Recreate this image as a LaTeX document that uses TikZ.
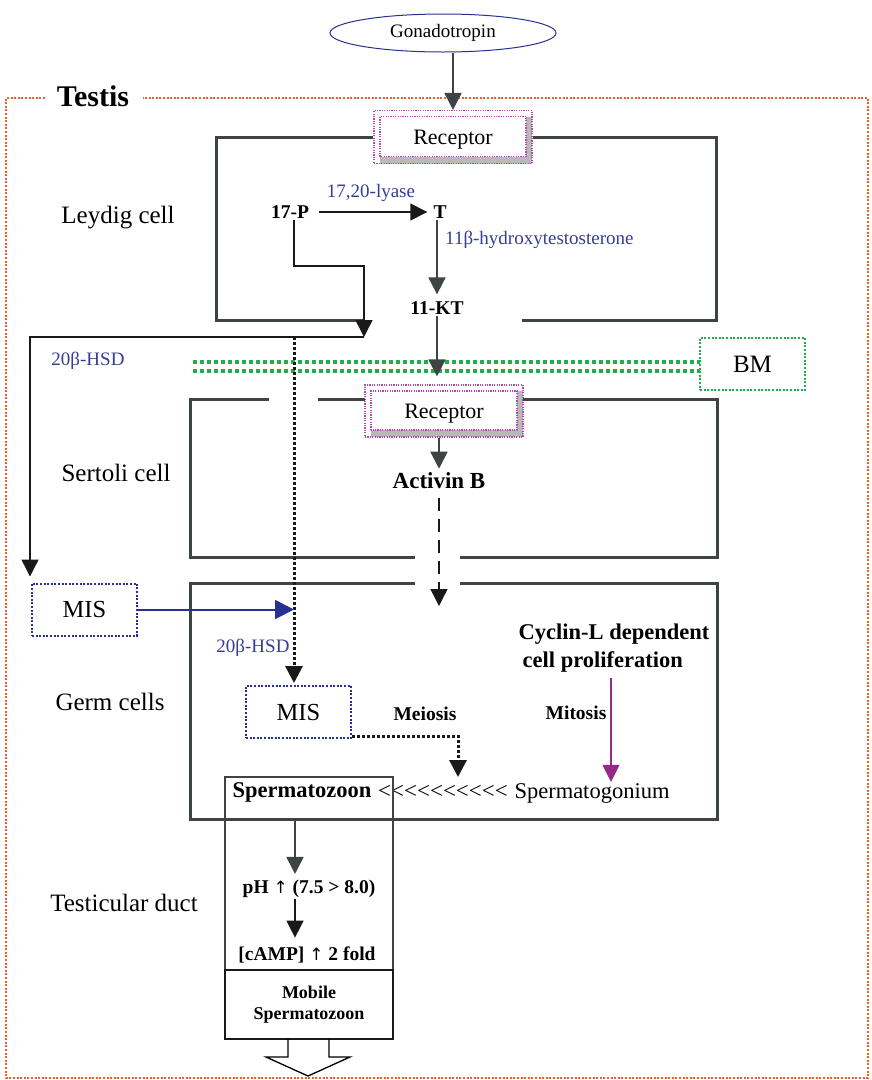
\documentclass[tikz,border=0pt]{standalone}
\usepackage{fontspec}
\setmainfont{Liberation Serif}
\newfontfamily\arrowfont{DejaVu Sans}
\usetikzlibrary{positioning, arrows.meta, shapes.geometric}
\definecolor{wallc}{RGB}{62,68,68}
\definecolor{enzc}{RGB}{55,60,150}
\definecolor{misc}{RGB}{40,48,145}
\definecolor{testc}{RGB}{240,95,40}
\definecolor{bmc}{RGB}{30,175,75}
\definecolor{recc}{RGB}{180,70,175}
\definecolor{shadc}{RGB}{185,185,185}
\definecolor{mitc}{RGB}{150,40,140}
\newcommand{\fsz}[1]{\fontsize{#1}{#1}\selectfont}
\newcommand{\uparr}{{\arrowfont\mdseries\fsz{17}↑}}
\newcommand{\ltch}{\hbox{<}}

\begin{document}
\begin{tikzpicture}[x=1pt, y=-1pt, inner sep=1pt,
  wall/.style={draw=wallc, line width=3pt},
  lab/.style={font=\fsz{25}},
  chem/.style={font=\fsz{19.5}\bfseries},
  big/.style={font=\fsz{22.5}\bfseries},
  enz/.style={text=enzc, font=\fsz{19}},
  recep/.style={draw=recc, line width=1.2pt, dash pattern=on 1.2pt off 1.2pt,
    fill=white, minimum width=158pt, minimum height=53pt, font=\fsz{22},
    text depth=0pt,
    path picture={
      \fill[shadc] ([shift={(-6pt,-6pt)}]path picture bounding box.north east)
        rectangle (path picture bounding box.south east);
      \fill[shadc] ([xshift=6pt]path picture bounding box.south west)
        rectangle ([yshift=7pt]path picture bounding box.south east);
      \draw[recc, line width=1.2pt, dash pattern=on 1.2pt off 1.2pt]
        ([shift={(6pt,7pt)}]path picture bounding box.south west)
        rectangle ([shift={(-6pt,-6pt)}]path picture bounding box.north east);}},
  misbox/.style={draw=misc, line width=2pt, dash pattern=on 2pt off 1.6pt,
    minimum width=105pt, minimum height=52pt, font=\fsz{24.5}},
  bmbox/.style={draw=bmc, line width=2pt, dash pattern=on 2pt off 1.6pt,
    minimum width=105pt, minimum height=52pt, font=\fsz{25}},
  arr/.style={-{Triangle[length=17pt,width=17pt]}, draw=wallc, line width=1.8pt},
  blk/.style={-{Triangle[length=17pt,width=17pt]}, draw=black!90, line width=1.4pt},
  dotl/.style={-{Triangle[length=17pt,width=17pt]}, draw=black!90, line width=3pt,
    dash pattern=on 3pt off 2pt},
  dsh/.style={-{Triangle[length=17pt,width=17pt]}, draw=black!90, line width=1.4pt,
    dash pattern=on 13pt off 8pt},
  bluearr/.style={-{Triangle[length=19pt,width=19pt]}, draw=misc, line width=2pt},
  mitarr/.style={-{Triangle[length=17pt,width=17pt]}, draw=mitc, line width=1.2pt}]
\useasboundingbox (0,0) rectangle (871,1080);
% testis frame
\draw[testc, line width=2pt, dash pattern=on 2pt off 1.6pt]
  (45,98) -- (6,98) -- (6,1078) -- (868,1078) -- (868,98) -- (143,98);
\node[font=\fsz{30}\bfseries] (tst) at (93,96) {Testis};
% hormone
\node[ellipse, draw=misc, line width=1pt, minimum width=226pt, minimum height=38pt,
  font=\fsz{19}] (gon) at (443,33) {Gonadotropin};
% receptors
\node[recep] (rec1) at (453,137) {Receptor};
\node[recep, minimum height=52pt] (rec2) at (444,411) {Receptor};
% cell walls
\draw[wall] (rec1.west) -- (216,137) -- (216,320) -- (365,320);
\draw[wall] (rec1.east) -- (716,137) -- (716,320) -- (522,320);
\draw[wall] (269,399) -- (190,399) -- (190,557) -- (415,557);
\draw[wall] (318,399) -- (365,399);
\draw[wall] (523,399) -- (717,399) -- (717,557) -- (460,557);
\draw[wall] (415,583) -- (190,583) -- (190,819) -- (717,819) -- (717,583) -- (460,583);
% basement membrane
\draw[bmc, line width=4pt, dash pattern=on 4pt off 3pt] (193,362) -- (700,362);
\draw[bmc, line width=4pt, dash pattern=on 4pt off 3pt] (193,371) -- (700,371);
\node[bmbox] (bm) at (752.5,364) {BM};
% compartment names
\node[lab] (ley) at (118,218) {Leydig cell};
\node[lab] (ser) at (116,473) {Sertoli cell};
\node[lab] (grm) at (110,702) {Germ cells};
\node[lab] (dct) at (124,903) {Testicular duct};
% steroids
\node[chem] (p17) at (290,212) {17-P};
\node[chem] (tt) at (440,212) {T};
\node[chem] (kt) at (437,308) {11-KT};
\node[enz] (lya) at (371,193) {17,20-lyase};
\node[enz, anchor=west] (hyd) at (444,240) {11β-hydroxytestosterone};
\node[enz] (hsd1) at (88,361) {20β-HSD};
\node[enz] (hsd2) at (253,648) {20β-HSD};
\node[font=\fsz{23}\bfseries] (act) at (439,481) {Activin B};
% MIS
\node[misbox] (mis1) at (84.5,609.5) {MIS};
\node[misbox] (mis2) at (298.5,712) {MIS};
% germ cell stages
\node[chem] (mei) at (425,714) {Meiosis};
\node[chem] (mit) at (576,713) {Mitosis};
\node[big, align=left] (cyc) at (614,648) {Cyclin-L dependent\\[6pt]\hspace*{4pt}cell proliferation};
\node[big] (spz) at (302,792) {Spermatozoon};
\node[font=\fsz{23}] (lts) at (443,792) {\ltch\ltch\ltch\ltch\ltch\ltch\ltch\ltch\ltch\ltch};
\node[font=\fsz{22.5}] (sgon) at (592,793) {Spermatogonium};
% duct
\draw[wallc, line width=1.5pt] (225,777) rectangle (393,970);
\node[chem] (ph) at (309,889) {pH \uparr{} (7.5 > 8.0)};
\node[chem] (camp) at (307,955) {[cAMP] \uparr{} 2 fold};
\node[draw=black!90, line width=1.5pt, minimum width=168pt, minimum height=69pt,
  align=center, font=\fsz{18}\bfseries] (mob) at (309,1004.5) {Mobile\\[3pt]Spermatozoon};
\draw[line width=1.3pt] (288,1039) -- (288,1057) -- (266,1057) -- (308,1076)
  -- (350,1057) -- (329,1057) -- (329,1039);
% junctions
\coordinate (bend) at (364,266);
\coordinate (j1) at (364,337);
\coordinate (j2) at (30,337);
\coordinate (j3) at (294,337);
\coordinate (atip) at (437,606);
\coordinate (mtip) at (458,777);
\coordinate (mtop) at (611,678);
\coordinate (dx) at (295,820);
% connectors
\draw[arr] (gon.south -| rec1) -- (rec1.north);
\draw[blk, shorten <=9pt, shorten >=5pt] (p17.east) -- (tt.west);
\draw[arr, shorten >=6pt] (tt.south -| kt) -- (kt.north);
\draw[arr, shorten >=8pt] (kt.south) -- (kt.south |- rec2.north);
\draw[blk] (p17.south -| j3) |- (bend) -- (j1);
\draw[blk, shorten >=6pt] (j1) -- (j2) -- (j2 |- mis1.north);
\draw[dotl, shorten >=2pt] (j3) -- (j3 |- mis2.north);
\draw[bluearr] (mis1.east) -- (mis1.east -| j3);
\draw[arr, shorten >=3pt] (rec2.south -| act) -- (act.north);
\draw[dsh, shorten <=8pt] (act.south) -- (act.south |- atip);
\draw[dotl] ([yshift=3pt]mis2.south east) -| (mtip);
\draw[mitarr] (mtop) -- (mtop |- sgon.north);
\draw[arr, shorten >=5pt] (dx) -- (dx |- ph.north);
\draw[blk, shorten >=8pt] (ph.south -| dx) -- (camp.north -| dx);
\end{tikzpicture}
\end{document}
